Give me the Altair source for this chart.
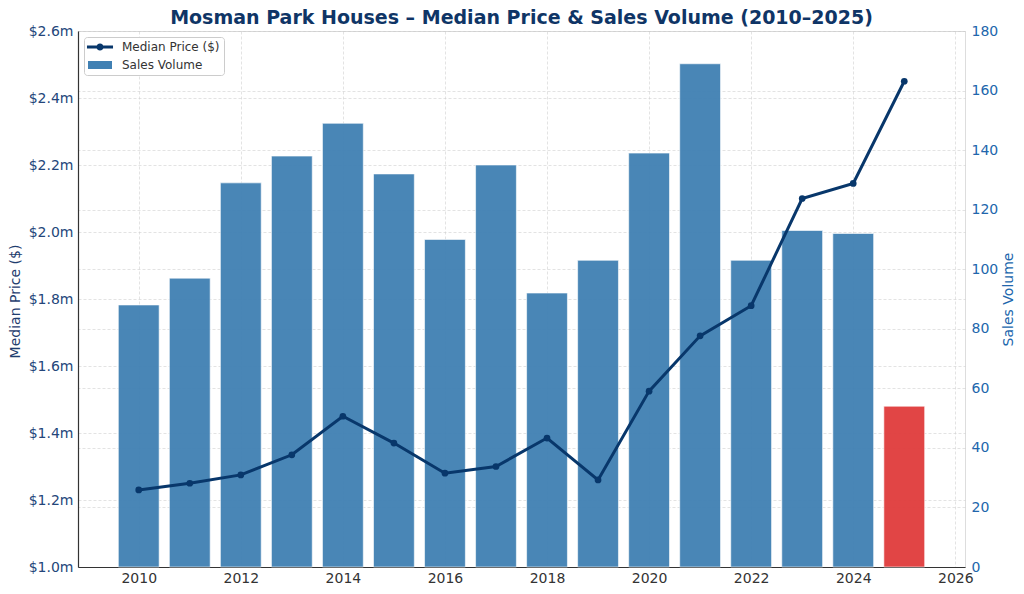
import altair as alt
import pandas as pd

years = list(range(2010, 2026))
median_price_m = [1.23, 1.25, 1.275, 1.335, 1.45, 1.37, 1.28, 1.30, 1.385, 1.26,
                  1.525, 1.69, 1.78, 2.10, 2.145, 2.45]
sales_volume = [88, 97, 129, 138, 149, 132, 110, 135, 92, 103,
                139, 169, 103, 113, 112, 54]
price_ticks = [1.0, 1.2, 1.4, 1.6, 1.8, 2.0, 2.2, 2.4, 2.6]
volume_ticks = [0, 20, 40, 60, 80, 100, 120, 140, 160, 180]
year_ticks = [2010, 2012, 2014, 2016, 2018, 2020, 2022, 2024, 2026]
legend_names = ["Median Price ($)", "Sales Volume"]
partial_year = 2025

df = pd.DataFrame({"year": years, "price": median_price_m, "volume": sales_volume})
legend_df = pd.DataFrame({"series": legend_names})

NAVY = "#08376b"
BAR_BLUE = "#4080b3"
BAR_RED = "#e03c3c"
FONT = "DejaVu Sans"
GRID = dict(grid=True, gridColor="#cccccc", gridDash=[3, 2], gridWidth=0.8, gridOpacity=0.7)

x_scale = alt.Scale(domain=[2008.81, 2026.19], nice=False, zero=False, padding=0)


def x_axis():
    return alt.Axis(values=year_ticks, format="d", title=None, ticks=False, tickSize=0,
                    labelPadding=4, labelFontSize=14, labelColor="#333333", labelFont=FONT,
                    domainColor="#333333", domainWidth=1.2, labelFlush=False, **GRID)


bars = (
    alt.Chart(df)
    .transform_calculate(x0="datum.year - 0.4", x1="datum.year + 0.4", base="0")
    .mark_bar(opacity=0.95, stroke="white", strokeWidth=1, strokeOpacity=0.6,
              orient="vertical")
    .encode(
        x=alt.X("x0:Q", scale=x_scale, axis=x_axis()),
        x2="x1:Q",
        y=alt.Y("volume:Q", scale=alt.Scale(domain=[0, 180], nice=False, padding=0),
                axis=alt.Axis(orient="right", values=volume_ticks, title="Sales Volume",
                              ticks=False, tickSize=0, labelPadding=6, labelFontSize=14,
                              labelColor="#2166ac", labelFont=FONT, domain=False,
                              titleColor="#2166ac", titleFontSize=14, titleFont=FONT,
                              titleFontWeight="normal", titleAngle=270,
                              titleX=43, titleY=268, titleAlign="center",
                              titleBaseline="middle", **GRID)),
        y2="base:Q",
        color=alt.condition(f"datum.year == {partial_year}", alt.value(BAR_RED), alt.value(BAR_BLUE)),
    )
)

line = (
    alt.Chart(df)
    .mark_line(color=NAVY, strokeWidth=3,
               point=alt.OverlayMarkDef(filled=True, color=NAVY, size=45, opacity=1))
    .encode(
        x=alt.X("year:Q", scale=x_scale, axis=x_axis()),
        y=alt.Y("price:Q", scale=alt.Scale(domain=[1.0, 2.6], nice=False, zero=False),
                axis=alt.Axis(orient="left", values=price_ticks, title="Median Price ($)",
                              labelExpr="'$' + format(datum.value, '.1f') + 'm'",
                              ticks=False, tickSize=0, labelPadding=5, labelFontSize=14,
                              labelColor="#24467a", labelFont=FONT,
                              domainColor="#333333", domainWidth=1.2,
                              titleColor="#1f3d6e", titleFontSize=14, titleFont=FONT,
                              titleFontWeight="normal", titleAngle=270,
                              titleX=-63, titleY=270, titleAlign="center",
                              titleBaseline="middle", **GRID)),
    )
)

line_sym = ("M-2.17,-0.25L2.17,-0.25L2.17,0.25L-2.17,0.25Z"
            "M-0.6,0A0.6,0.6,0,1,1,0.6,0A0.6,0.6,0,1,1,-0.6,0Z")
rect_sym = "M-2,-0.67L2,-0.67L2,0.67L-2,0.67Z"

leg_props = dict(title=None, orient="none", legendX=6, legendY=6, padding=4,
                 symbolSize=144, symbolOffset=6, labelOffset=16, rowPadding=6,
                 symbolStrokeWidth=0, labelFontSize=12, labelFont=FONT,
                 labelColor="#333333", fillColor="white", strokeColor="#cccccc",
                 cornerRadius=3)

legend_layer = (
    alt.Chart(legend_df)
    .transform_filter("false")
    .mark_point(filled=True, opacity=1)
    .encode(
        color=alt.Color("series:N", scale=alt.Scale(domain=legend_names, range=[NAVY, BAR_BLUE]),
                        legend=alt.Legend(**leg_props)),
        shape=alt.Shape("series:N", scale=alt.Scale(domain=legend_names, range=[line_sym, rect_sym]),
                        legend=alt.Legend(**leg_props)),
    )
)

chart = (
    alt.layer(bars, line, legend_layer)
    .resolve_scale(y="independent")
    .properties(
        width=887, height=536,
        title=alt.TitleParams(
            text="Mosman Park Houses \u2013 Median Price & Sales Volume (2010\u20132025)",
            font=FONT, fontSize=19, fontWeight="bold", color="#0f3566",
            anchor="middle", frame="group", offset=2, baseline="alphabetic", dy=21),
        autosize=alt.AutoSizeParams(type="none"),
        padding={"left": 70, "top": 23, "right": 50, "bottom": 18},
    )
    .configure_view(stroke=None)
    .configure(font=FONT)
)

chart.save("out.html", embed_options={"renderer": "svg", "actions": False})
